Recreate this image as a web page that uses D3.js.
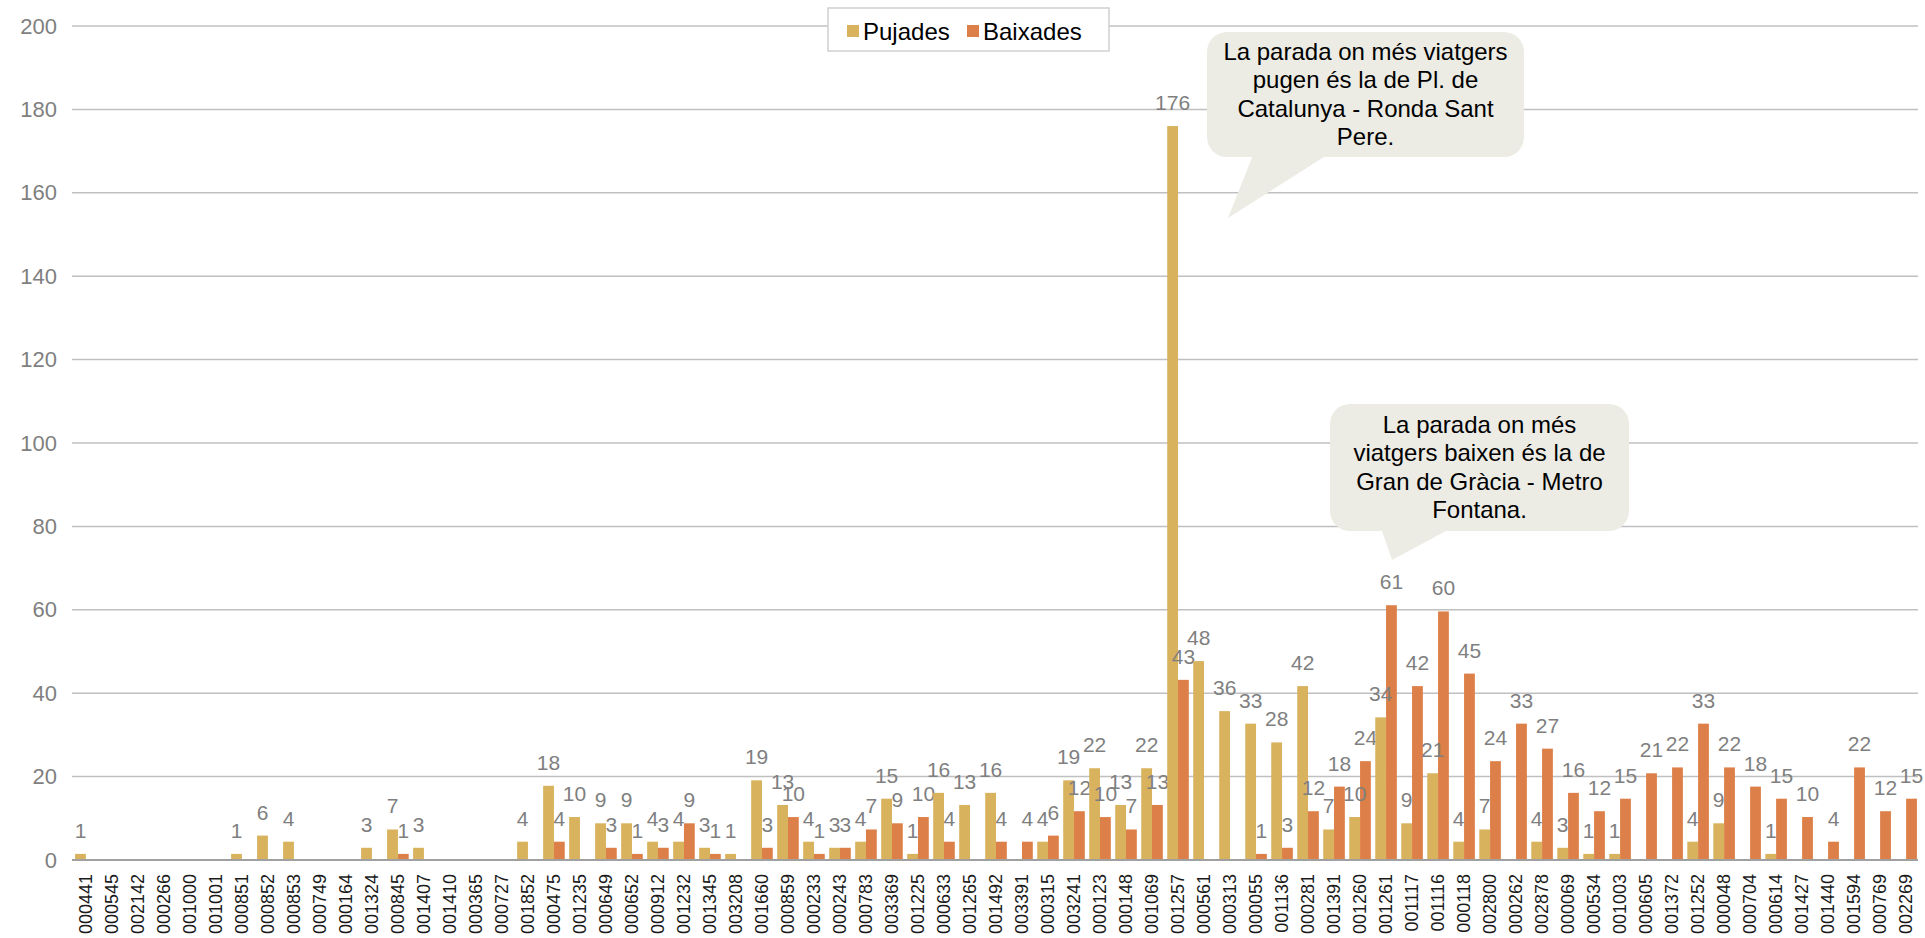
<!DOCTYPE html>
<html>
<head>
<meta charset="utf-8">
<script src="https://cdn.jsdelivr.net/npm/d3@7"></script>
<style>
  html, body { margin: 0; padding: 0; background: #fff; }
  svg { display: block; font-family: "Liberation Sans", Arial, sans-serif; }
</style>
</head>
<body>
<svg id="chart" width="1925" height="938"></svg>
<script>
const categories = ["000441","000545","002142","000266","001000","001001","000851","000852","000853","000749",
  "000164","001324","000845","001407","001410","000365","000727","001852","000475","001235",
  "000649","000652","000912","001232","001345","003208","001660","000859","000233","000243",
  "000783","003369","001225","000633","001265","001492","003391","000315","003241","000123",
  "000148","001069","001257","000561","000313","000055","001136","000281","001391","001260",
  "001261","001117","001116","000118","002800","000262","002878","000069","000534","001003",
  "000605","001372","001252","000048","000704","000614","001427","001440","001594","000769","002269"];

const pujades = [1.46,0,0,0,0,0,1.46,5.85,4.39,0,
  0,2.93,7.32,2.93,0,0,0,4.39,17.8,10.3,
  8.8,8.8,4.39,4.39,2.93,1.46,19.1,13.2,4.39,2.93,
  4.39,14.7,1.46,16.1,13.2,16.1,0,4.39,19.1,22.0,
  13.2,22.0,176,47.7,35.7,32.7,28.2,41.7,7.32,10.3,
  34.2,8.8,20.8,4.39,7.32,0,4.39,2.93,1.46,1.46,
  0,0,4.39,8.8,0,1.46,0,0,0,0,0];

const baixades = [0,0,0,0,0,0,0,0,0,0,
  0,0,1.46,0,0,0,0,0,4.39,0,
  2.93,1.46,2.93,8.8,1.46,0,2.93,10.3,1.46,2.93,
  7.32,8.8,10.3,4.39,0,4.39,4.39,5.85,11.7,10.3,
  7.32,13.2,43.2,0,0,1.46,2.93,11.7,17.6,23.7,
  61.1,41.7,59.6,44.7,23.7,32.7,26.7,16.1,11.7,14.7,
  20.8,22.2,32.7,22.2,17.6,14.7,10.3,4.39,22.2,11.7,14.7];

const seriesNames = ["Pujades","Baixades"];
const seriesColors = ["#D8B25C","#DD7F48"];
const yTicks = [0,20,40,60,80,100,120,140,160,180,200];

const callouts = [
  {lines:["La parada on més viatgers","pugen és la de Pl. de","Catalunya - Ronda Sant","Pere."],
   box:[1207,32,1524,157], tail:[[1255,150],[1335,150],[1228,218]]},
  {lines:["La parada on més","viatgers baixen és la de","Gran de Gràcia - Metro","Fontana."],
   box:[1330,404,1629,531], tail:[[1380,525],[1457,525],[1392,560]]}
];

const svg = d3.select("#chart");
const L = 72, R = 1918, T = 26, B = 860;

const x0 = d3.scaleBand().domain(categories).range([L + 1, R + 1]).paddingInner(0.17).paddingOuter(0.08);
const x1 = d3.scaleBand().domain(seriesNames).range([0, x0.bandwidth()]);
const y = d3.scaleLinear().domain([0, 200]).range([B, T]);
const fmt = d3.format(".0f");

// gridlines
svg.append("g").selectAll("line").data(yTicks.filter(d => d > 0)).join("line")
  .attr("x1", L).attr("x2", R)
  .attr("y1", d => y(d)).attr("y2", d => y(d))
  .attr("stroke", "#c0c0c0").attr("stroke-width", 1.5);

// y axis labels
const yAxis = d3.axisLeft(y).tickValues(yTicks).tickSize(0).tickPadding(15);
const gy = svg.append("g").attr("transform", `translate(${L},0)`).call(yAxis);
gy.select(".domain").remove();
gy.selectAll("text").attr("fill", "#7f7f7f").style("font-size", "22px")
  .style("font-family", "'Liberation Sans', Arial, sans-serif");

// data
const rows = categories.map((c, i) => ({cat: c, vals: [pujades[i], baixades[i]]}));
const groups = svg.append("g").selectAll("g").data(rows).join("g")
  .attr("transform", d => `translate(${x0(d.cat)},0)`);

groups.selectAll("rect").data(d => d.vals.map((v, k) => ({k, v}))).join("rect")
  .attr("x", d => x1(seriesNames[d.k]))
  .attr("width", x1.bandwidth())
  .attr("y", d => y(d.v))
  .attr("height", d => y(0) - y(d.v))
  .attr("fill", d => seriesColors[d.k]);

groups.selectAll("text").data(d => d.vals.map((v, k) => ({k, v})).filter(e => e.v > 0)).join("text")
  .attr("x", d => x1(seriesNames[d.k]) + x1.bandwidth() / 2)
  .attr("y", d => y(d.v) - 16)
  .attr("text-anchor", "middle")
  .attr("fill", "#7f7f7f")
  .style("font-size", "21px")
  .text(d => fmt(d.v));

// x axis line
svg.append("line").attr("x1", L).attr("x2", R).attr("y1", y(0)).attr("y2", y(0))
  .attr("stroke", "#a0a0a0").attr("stroke-width", 2);

// x axis labels
const xAxis = d3.axisBottom(x0).tickSize(0).tickPadding(0);
const gx = svg.append("g").attr("transform", `translate(0,${B})`).call(xAxis);
gx.select(".domain").remove();
gx.selectAll("text")
  .attr("transform", "rotate(-90)")
  .attr("x", -14).attr("y", 0).attr("dy", "0.35em")
  .attr("text-anchor", "end")
  .attr("fill", "#1a1a1a")
  .style("font-size", "18px")
  .style("font-family", "'Liberation Sans', Arial, sans-serif");

// legend
const lg = svg.append("g");
lg.append("rect").attr("x", 828).attr("y", 8).attr("width", 281).attr("height", 43)
  .attr("fill", "#fff").attr("stroke", "#d0d0d0").attr("stroke-width", 1.5);
const legendX = [847, 967];
seriesNames.forEach((n, i) => {
  lg.append("rect").attr("x", legendX[i]).attr("y", 25).attr("width", 12).attr("height", 12)
    .attr("fill", seriesColors[i]);
  lg.append("text").attr("x", legendX[i] + 16).attr("y", 40).attr("fill", "#000")
    .style("font-size", "24px").text(n);
});

// callouts
callouts.forEach(c => {
  const g = svg.append("g");
  const [x0b, y0b, x1b, y1b] = c.box;
  g.append("rect").attr("x", x0b).attr("y", y0b).attr("width", x1b - x0b).attr("height", y1b - y0b)
    .attr("rx", 20).attr("fill", "#ECECE5");
  g.append("path").attr("d", "M" + c.tail.map(p => p.join(",")).join("L") + "Z").attr("fill", "#ECECE5");
  const cx = (x0b + x1b) / 2;
  const lineH = 28.5;
  const startY = (y0b + y1b) / 2 - (c.lines.length - 1) * lineH / 2 + 8;
  c.lines.forEach((t, i) => {
    g.append("text").attr("x", cx).attr("y", startY + i * lineH).attr("text-anchor", "middle")
      .attr("fill", "#000").style("font-size", "24px").text(t);
  });
});
</script>
</body>
</html>
